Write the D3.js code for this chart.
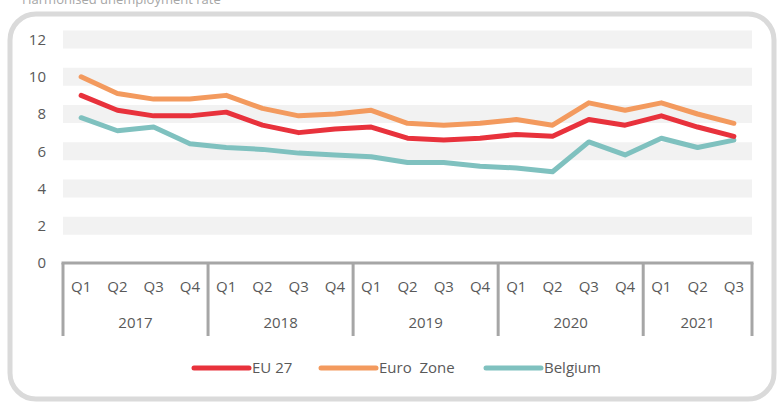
<!DOCTYPE html>
<html>
<head>
<meta charset="utf-8">
<script src="https://cdn.jsdelivr.net/npm/d3@7"></script>
<style>
  body { margin: 0; background: #fff; }
  svg { display: block; font-family: "Open Sans", "Noto Sans", sans-serif; }
</style>
</head>
<body>
<div id="chart"></div>
<script>
// data
const years = ['2017', '2018', '2019', '2020', '2021'];
const quarters = ['Q1','Q2','Q3','Q4','Q1','Q2','Q3','Q4','Q1','Q2','Q3','Q4','Q1','Q2','Q3','Q4','Q1','Q2','Q3'];
const quarterYear = [0,0,0,0,1,1,1,1,2,2,2,2,3,3,3,3,4,4,4];
const eu27 =     [9.0, 8.2, 7.9, 7.9, 8.1, 7.4, 7.0, 7.2, 7.3, 6.7, 6.6, 6.7, 6.9, 6.8, 7.7, 7.4, 7.9, 7.3, 6.8];
const euroZone = [10.0, 9.1, 8.8, 8.8, 9.0, 8.3, 7.9, 8.0, 8.2, 7.5, 7.4, 7.5, 7.7, 7.4, 8.6, 8.2, 8.6, 8.0, 7.5];
const belgium =  [7.8, 7.1, 7.3, 6.4, 6.2, 6.1, 5.9, 5.8, 5.7, 5.4, 5.4, 5.2, 5.1, 4.9, 6.5, 5.8, 6.7, 6.2, 6.6];
const yTicks = [0, 2, 4, 6, 8, 10, 12];

const series = [
  { name: 'EU 27', values: eu27, color: '#e8323c' },
  { name: 'Euro  Zone', values: euroZone, color: '#f39a5e' },
  { name: 'Belgium', values: belgium, color: '#7fc1bf' }
];

const W = 777, H = 403;
const plotL = 63, plotR = 752, plotT = 39.5, plotB = 263;
const fs = 15;

const svg = d3.select('#chart').append('svg')
    .attr('width', W).attr('height', H);

// cut-off title above the frame (clipped in the original too)
svg.append('text')
    .attr('x', 22).attr('y', 4)
    .attr('fill', '#a6a6a6').attr('font-size', 13)
    .text('Harmonised unemployment rate');

// frame
svg.append('rect')
    .attr('x', 10).attr('y', 14)
    .attr('width', 764).attr('height', 385)
    .attr('rx', 26).attr('ry', 26)
    .attr('fill', 'none').attr('stroke', '#dadada').attr('stroke-width', 5);

const x = d3.scaleBand().domain(d3.range(quarters.length)).range([plotL, plotR]);
const y = d3.scaleLinear().domain([0, 12]).range([plotB, plotT]);

// thick light gridlines
svg.append('g').selectAll('rect')
  .data(yTicks.filter(d => d > 0))
  .join('rect')
    .attr('x', plotL).attr('width', plotR - plotL)
    .attr('y', d => y(d) - 9).attr('height', 18)
    .attr('fill', '#f2f2f2');

// y labels
svg.append('g').selectAll('text')
  .data(yTicks)
  .join('text')
    .attr('x', 46).attr('y', d => y(d))
    .attr('dy', '0.35em').attr('text-anchor', 'end')
    .attr('fill', '#595959').attr('font-size', fs)
    .text(d => d);

// category axis
const axisCol = '#a6a6a6';
const axisBottom = 336;
svg.append('line')
    .attr('x1', plotL - 1.5).attr('x2', plotR + 1.5)
    .attr('y1', plotB).attr('y2', plotB)
    .attr('stroke', axisCol).attr('stroke-width', 3);

const seps = d3.range(years.length + 1).map(i => i < years.length ? x(i * 4) : plotR);
svg.append('g').selectAll('line')
  .data(seps)
  .join('line')
    .attr('x1', d => d).attr('x2', d => d)
    .attr('y1', plotB).attr('y2', axisBottom)
    .attr('stroke', axisCol).attr('stroke-width', 3);

svg.append('g').selectAll('text')
  .data(quarters)
  .join('text')
    .attr('x', (d, i) => x(i) + x.bandwidth() / 2)
    .attr('y', 287).attr('dy', '0.35em')
    .attr('text-anchor', 'middle')
    .attr('fill', '#595959').attr('font-size', fs)
    .text(d => d);

svg.append('g').selectAll('text')
  .data(years)
  .join('text')
    .attr('x', (d, i) => {
      const idx = quarterYear.map((q, j) => q === i ? j : -1).filter(j => j >= 0);
      return (x(idx[0]) + x(idx[idx.length - 1]) + x.bandwidth()) / 2;
    })
    .attr('y', 323).attr('dy', '0.35em')
    .attr('text-anchor', 'middle')
    .attr('fill', '#595959').attr('font-size', fs)
    .text(d => d);

// lines
const line = d3.line()
    .x((d, i) => x(i) + x.bandwidth() / 2)
    .y(d => y(d));

svg.append('g').selectAll('path')
  .data(series.slice().reverse())
  .join('path')
    .attr('d', d => line(d.values))
    .attr('fill', 'none')
    .attr('stroke', d => d.color)
    .attr('stroke-width', 5)
    .attr('stroke-linejoin', 'round')
    .attr('stroke-linecap', 'round');

// legend
const legendX = [194, 321, 486];
const lg = svg.append('g').selectAll('g')
  .data(series)
  .join('g')
    .attr('transform', (d, i) => `translate(${legendX[i]},368)`);
lg.append('line')
    .attr('x1', 0).attr('x2', 55)
    .attr('stroke', d => d.color).attr('stroke-width', 5)
    .attr('stroke-linecap', 'round');
lg.append('text')
    .attr('x', 58).attr('dy', '0.35em')
    .attr('fill', '#595959').attr('font-size', fs)
    .attr('xml:space', 'preserve')
    .style('white-space', 'pre')
    .text(d => d.name);
</script>
</body>
</html>
